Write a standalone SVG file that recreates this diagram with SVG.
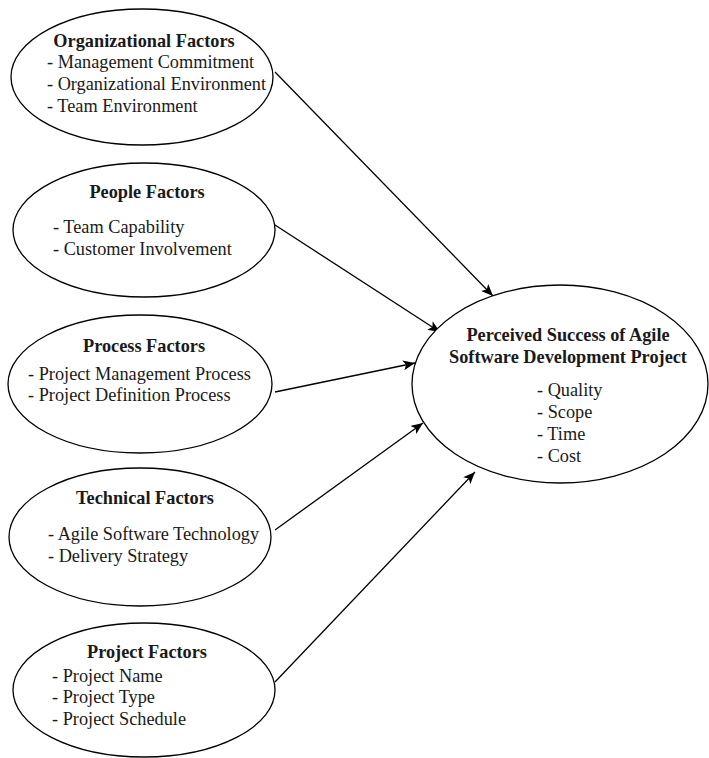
<svg xmlns="http://www.w3.org/2000/svg" width="709" height="758" viewBox="0 0 709 758">
<style>
.node ellipse{fill:#fff;stroke:#000;stroke-width:1.3}
text{font-family:"Liberation Serif","Times New Roman",serif;font-size:18.3px;fill:#1a1a1a}
.h{font-weight:bold;text-anchor:middle}
.edges line{stroke:#000;stroke-width:1.3}
</style>
<defs>
<marker id="arr" viewBox="0 0 12 10" refX="12" refY="5" markerWidth="12" markerHeight="10" markerUnits="userSpaceOnUse" orient="auto">
<path d="M0,0 L12,5 L0,10 L3,5 Z" fill="#000"/>
</marker>
</defs>
<g class="edges">
<line x1="275" y1="72" x2="493" y2="296" marker-end="url(#arr)"/>
<line x1="275" y1="225" x2="440" y2="332" marker-end="url(#arr)"/>
<line x1="275" y1="392" x2="415" y2="363" marker-end="url(#arr)"/>
<line x1="275" y1="530" x2="423" y2="423" marker-end="url(#arr)"/>
<line x1="275" y1="682" x2="475" y2="472" marker-end="url(#arr)"/>
</g>
<g id="organizational" class="node">
<ellipse cx="142" cy="77" rx="131" ry="68"/>
<text class="h" x="144" y="47">Organizational Factors</text>
<text x="47" y="68">- Management Commitment</text>
<text x="47" y="90">- Organizational Environment</text>
<text x="47" y="112">- Team Environment</text>
</g>
<g id="people" class="node">
<ellipse cx="144" cy="230" rx="131" ry="67"/>
<text class="h" x="147" y="198">People Factors</text>
<text x="53" y="233">- Team Capability</text>
<text x="53" y="255">- Customer Involvement</text>
</g>
<g id="process" class="node">
<ellipse cx="140" cy="384" rx="132" ry="69"/>
<text class="h" x="144" y="352">Process Factors</text>
<text x="28" y="380">- Project Management Process</text>
<text x="28" y="401">- Project Definition Process</text>
</g>
<g id="technical" class="node">
<ellipse cx="140" cy="537" rx="131" ry="69"/>
<text class="h" x="145" y="504">Technical Factors</text>
<text x="48" y="540">- Agile Software Technology</text>
<text x="48" y="562">- Delivery Strategy</text>
</g>
<g id="project" class="node">
<ellipse cx="144" cy="690" rx="131" ry="67"/>
<text class="h" x="147" y="658">Project Factors</text>
<text x="52" y="682">- Project Name</text>
<text x="52" y="703">- Project Type</text>
<text x="52" y="725">- Project Schedule</text>
</g>
<g id="success" class="node">
<ellipse cx="560" cy="384" rx="148" ry="99"/>
<text class="h" x="568" y="341">Perceived Success of Agile</text>
<text class="h" x="568" y="363">Software Development Project</text>
<text x="537" y="396">- Quality</text>
<text x="537" y="418">- Scope</text>
<text x="537" y="440">- Time</text>
<text x="537" y="462">- Cost</text>
</g>
</svg>
